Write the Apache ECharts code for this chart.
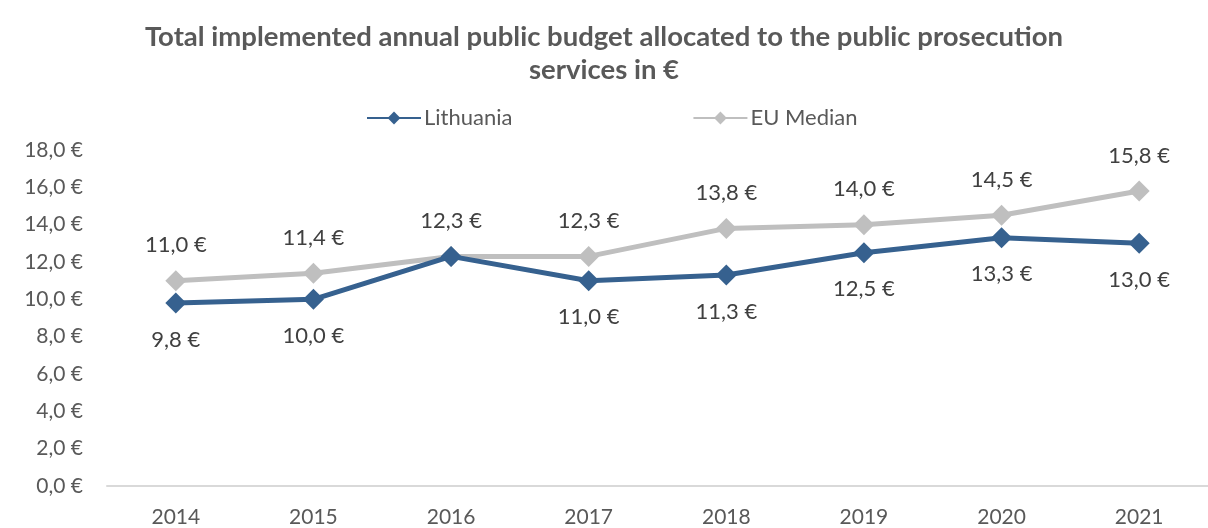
<!DOCTYPE html>
<html>
<head>
<meta charset="utf-8">
<script src="https://cdn.jsdelivr.net/npm/echarts@6/dist/echarts.min.js"></script>
<style>
  html, body { margin: 0; padding: 0; background: #fff; }
  #chart { width: 1208px; height: 528px; }
</style>
</head>
<body>
<div id="chart"></div>
<script>
var years = ['2014', '2015', '2016', '2017', '2018', '2019', '2020', '2021'];
var lithuania = [9.8, 10.0, 12.3, 11.0, 11.3, 12.5, 13.3, 13.0];
var euMedian = [11.0, 11.4, 12.3, 12.3, 13.8, 14.0, 14.5, 15.8];
// index of lithuania labels hidden in original (overlap)
var hiddenLabels = [2];

var fnt = 'Lato, "Open Sans", sans-serif';
function eur(v) { return v.toFixed(1).replace('.', ',') + ' €'; }

var ltData = lithuania.map(function (v, i) {
    return hiddenLabels.indexOf(i) >= 0 ? { value: v, label: { show: false } } : v;
});

var myChart = echarts.init(document.getElementById('chart'));
myChart.setOption({
    title: {
        text: 'Total implemented annual public budget allocated to the public prosecution\nservices in €',
        left: 'center',
        top: 16,
        textStyle: { fontFamily: fnt, fontSize: 27.5, fontWeight: 'bold', color: '#595959', lineHeight: 33 }
    },
    legend: {
        top: 102,
        left: 361,
        itemGap: 180,
        itemWidth: 54,
        itemHeight: 16,
        textStyle: { fontFamily: fnt, fontSize: 22, color: '#595959', padding: [0, 0, 0, -2] },
        data: ['Lithuania', 'EU Median']
    },
    grid: { left: 107, top: 150, width: 1113, height: 339, containLabel: false },
    xAxis: {
        type: 'category',
        data: years,
        boundaryGap: true,
        axisLine: { lineStyle: { color: '#d9d9d9', width: 2 } },
        axisTick: { show: false },
        axisLabel: { fontFamily: fnt, fontSize: 21, color: '#595959', margin: 21 }
    },
    yAxis: {
        type: 'value',
        min: 0,
        max: 18,
        interval: 2,
        splitLine: { show: false },
        axisLine: { show: false },
        axisTick: { show: false },
        axisLabel: { fontFamily: fnt, fontSize: 21, color: '#595959', margin: 24, formatter: eur }
    },
    series: [
        {
            name: 'Lithuania',
            type: 'line',
            data: ltData,
            symbol: 'diamond',
            symbolSize: 21,
            z: 3,
            lineStyle: { color: '#36618f', width: 5 },
            itemStyle: { color: '#36618f' },
            label: {
                show: true, position: 'bottom', distance: 15,
                fontFamily: fnt, fontSize: 22, color: '#404040',
                formatter: function (p) { return eur(p.value); }
            }
        },
        {
            name: 'EU Median',
            type: 'line',
            data: euMedian,
            symbol: 'diamond',
            symbolSize: 21,
            z: 2,
            lineStyle: { color: '#bfbfbf', width: 5 },
            itemStyle: { color: '#bfbfbf' },
            label: {
                show: true, position: 'top', distance: 14,
                fontFamily: fnt, fontSize: 22, color: '#404040',
                formatter: function (p) { return eur(p.value); }
            }
        }
    ]
});
</script>
</body>
</html>
